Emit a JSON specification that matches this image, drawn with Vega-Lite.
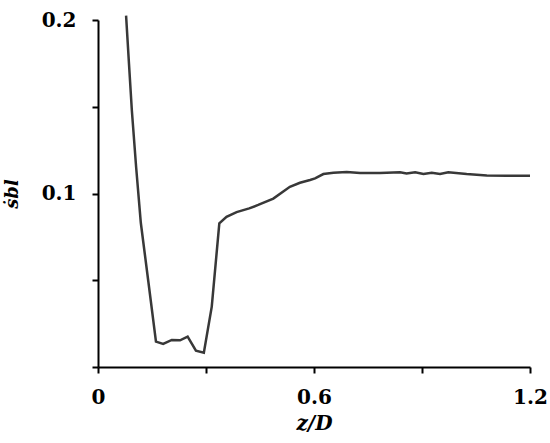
{
  "$schema": "https://vega.github.io/schema/vega-lite/v6.json",
  "width": 432,
  "height": 347,
  "autosize": {"type": "none"},
  "padding": {"left": 98, "top": 20, "right": 20, "bottom": 76},
  "background": "white",
  "config": {
    "view": {"stroke": null},
    "axis": {
      "grid": false,
      "domainColor": "black",
      "domainWidth": 2,
      "tickColor": "black",
      "tickWidth": 2,
      "tickSize": 6,
      "labelFont": "DejaVu Serif",
      "labelFontWeight": "bold",
      "labelFontSize": 20,
      "labelColor": "black",
      "titleFont": "DejaVu Serif",
      "titleFontStyle": "italic",
      "titleFontWeight": "bold",
      "titleFontSize": 20,
      "titleColor": "black"
    }
  },
  "data": {
    "values": [
      {"z": 0.078, "s": 0.2025},
      {"z": 0.086, "s": 0.175},
      {"z": 0.094, "s": 0.148},
      {"z": 0.106, "s": 0.115},
      {"z": 0.119, "s": 0.083},
      {"z": 0.140, "s": 0.049},
      {"z": 0.161, "s": 0.0146},
      {"z": 0.181, "s": 0.0133},
      {"z": 0.205, "s": 0.0156},
      {"z": 0.228, "s": 0.0154},
      {"z": 0.249, "s": 0.0175},
      {"z": 0.272, "s": 0.0094},
      {"z": 0.294, "s": 0.0083},
      {"z": 0.316, "s": 0.0348},
      {"z": 0.337, "s": 0.0828},
      {"z": 0.357, "s": 0.0866},
      {"z": 0.385, "s": 0.0893},
      {"z": 0.420, "s": 0.0914},
      {"z": 0.445, "s": 0.0934},
      {"z": 0.487, "s": 0.0971},
      {"z": 0.533, "s": 0.1039},
      {"z": 0.561, "s": 0.1062},
      {"z": 0.589, "s": 0.1078},
      {"z": 0.603, "s": 0.1087},
      {"z": 0.626, "s": 0.1112},
      {"z": 0.654, "s": 0.1119},
      {"z": 0.691, "s": 0.1124},
      {"z": 0.728, "s": 0.1118},
      {"z": 0.783, "s": 0.1118},
      {"z": 0.839, "s": 0.1122},
      {"z": 0.857, "s": 0.1115},
      {"z": 0.881, "s": 0.1122},
      {"z": 0.904, "s": 0.1112},
      {"z": 0.927, "s": 0.1119},
      {"z": 0.950, "s": 0.1112},
      {"z": 0.973, "s": 0.1122},
      {"z": 1.024, "s": 0.1112},
      {"z": 1.080, "s": 0.1104},
      {"z": 1.135, "s": 0.1102},
      {"z": 1.200, "s": 0.1102}
    ]
  },
  "mark": {"type": "line", "color": "#383838", "strokeWidth": 2.5, "clip": false},
  "encoding": {
    "x": {
      "field": "z",
      "type": "quantitative",
      "scale": {"domain": [0, 1.2], "nice": false, "zero": true},
      "axis": {
        "values": [0, 0.3, 0.6, 0.9, 1.2],
        "format": "~g",
        "labelExpr": "datum.value == 0 || datum.value == 0.6 || datum.value == 1.2 ? datum.label : ''",
        "labelFlush": false,
        "labelPadding": 14,
        "title": "z/D",
        "titleX": 216,
        "titleY": 62,
        "titleBaseline": "alphabetic",
        "titleAlign": "center"
      }
    },
    "y": {
      "field": "s",
      "type": "quantitative",
      "scale": {"domain": [0, 0.2], "nice": false},
      "axis": {
        "values": [0, 0.05, 0.1, 0.15, 0.2],
        "format": "~g",
        "labelExpr": "datum.value == 0.1 || datum.value == 0.2 ? datum.label : ''",
        "labelPadding": 16,
        "title": "ṡbl",
        "titleFontSize": 18,
        "titleX": -81,
        "titleY": 173.5,
        "titleAngle": -90,
        "titleBaseline": "alphabetic",
        "titleAlign": "center"
      }
    }
  }
}
